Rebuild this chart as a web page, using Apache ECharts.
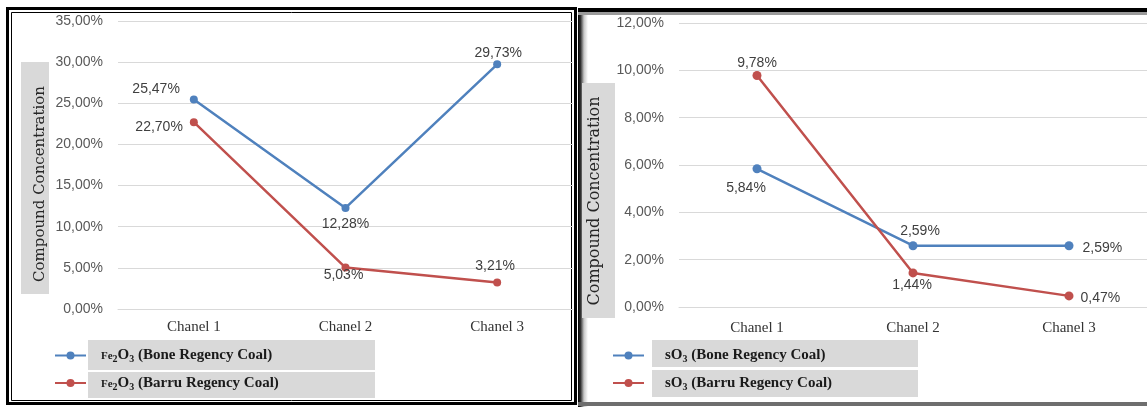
<!DOCTYPE html>
<html>
<head>
<meta charset="utf-8">
<title>Compound Concentration by Channel</title>
<script src="https://cdn.jsdelivr.net/npm/echarts@6/dist/echarts.min.js"></script>
<style>
  html, body { margin: 0; padding: 0; background: #ffffff; }
  #chart { width: 1147px; height: 408px; }
</style>
</head>
<body>
<div id="chart"></div>
<script>
// Channels sampled and measured concentrations (%)
const channels = ['Chanel 1', 'Chanel 2', 'Chanel 3'];
const fe2o3Bone = [25.47, 12.28, 29.73];
const fe2o3Barru = [22.70, 5.03, 3.21];
const so3Bone = [5.84, 2.59, 2.59];
const so3Barru = [9.78, 1.44, 0.47];

// Value axis ranges
const feAxis = { min: 0, max: 35, interval: 5 };
const soAxis = { min: 0, max: 12, interval: 2 };

const seriesNames = {
  feBone: 'Fe2O3 (Bone Regency Coal)',
  feBarru: 'Fe2O3 (Barru Regency Coal)',
  soBone: 'sO3 (Bone Regency Coal)',
  soBarru: 'sO3 (Barru Regency Coal)'
};

const BLUE = '#4f81bd';
const RED = '#c0504d';
const GRID_LINE = '#d9d9d9';
const BOX = '#d9d9d9';

const pct = v => v.toFixed(2).replace('.', ',') + '%';

// label placement for each point: [position, offset]
const placement = {
  feBone:  [['left', [-5, -10]], ['bottom', [0, 0]], ['top', [1, 5]]],
  feBarru: [['left', [-2, 5]], ['bottom', [-2, -8]], ['top', [-2, 0]]],
  soBone:  [['bottom', [-11, 3]], ['top', [7, 2]], ['right', [4, 2]]],
  soBarru: [['top', [0, 4]], ['bottom', [-1, -4]], ['right', [2, 2]]]
};

function points(values, key) {
  return values.map((v, i) => ({
    value: v,
    label: { position: placement[key][i][0], offset: placement[key][i][1] }
  }));
}

function lineSeries(name, values, key, color, gridIdx, size) {
  return {
    name: name,
    type: 'line',
    xAxisIndex: gridIdx,
    yAxisIndex: gridIdx,
    data: points(values, key),
    symbol: 'circle',
    symbolSize: size,
    lineStyle: { color: color, width: 2.5 },
    itemStyle: { color: color },
    label: {
      show: true,
      formatter: p => pct(p.value),
      color: '#404040',
      fontFamily: 'Liberation Sans',
      fontSize: 14
    },
    emphasis: { disabled: true },
    animation: false
  };
}

function legendLabel(name) {
  const m = name.match(/^(Fe2O3|sO3)(.*)$/);
  if (m[1] === 'Fe2O3') {
    return '{fe|Fe}{sub|2}{big|O}{sub|3}{big|' + m[2] + '}';
  }
  return '{big|sO}{sub|3}{big|' + m[2] + '}';
}

const legendRich = {
  fe: { fontFamily: 'Liberation Serif', fontWeight: 'bold', fontSize: 11, color: '#1a1a1a', lineHeight: 18, padding: [2, 0, 0, 0] },
  big: { fontFamily: 'Liberation Serif', fontWeight: 'bold', fontSize: 15, color: '#1a1a1a', lineHeight: 18 },
  sub: { fontFamily: 'Liberation Serif', fontWeight: 'bold', fontSize: 10, color: '#1a1a1a', verticalAlign: 'bottom', lineHeight: 13 }
};

function makeLegend(names, left, gap) {
  return {
    orient: 'vertical',
    left: left,
    top: 343,
    itemWidth: 31,
    itemHeight: 10,
    itemGap: 11,
    z: 10,
    selectedMode: false,
    data: names,
    formatter: legendLabel,
    textStyle: { rich: legendRich, padding: [0, 0, 0, gap] }
  };
}

function valueAxis(gridIdx, range) {
  return {
    type: 'value',
    gridIndex: gridIdx,
    min: range.min,
    max: range.max,
    interval: range.interval,
    axisLine: { show: false },
    axisTick: { show: false },
    splitLine: { lineStyle: { color: GRID_LINE, width: 1 } },
    axisLabel: {
      formatter: v => pct(v),
      color: '#595959',
      fontFamily: 'Liberation Sans',
      fontSize: 14,
      margin: 15
    }
  };
}

function categoryAxis(gridIdx, margin) {
  return {
    type: 'category',
    gridIndex: gridIdx,
    data: channels,
    boundaryGap: true,
    axisLine: { show: true, lineStyle: { color: GRID_LINE } },
    axisTick: { show: false },
    axisLabel: {
      color: '#333333',
      fontFamily: 'Liberation Serif',
      fontSize: 15,
      margin: margin
    }
  };
}

const chart = echarts.init(document.getElementById('chart'), null, { renderer: 'canvas' });

chart.setOption({
  backgroundColor: '#ffffff',
  animation: false,
  grid: [
    { left: 118, right: 574, top: 21, bottom: 99 },
    { left: 679, right: 0, top: 23, bottom: 101 }
  ],
  xAxis: [categoryAxis(0, 11), categoryAxis(1, 14)],
  yAxis: [valueAxis(0, feAxis), valueAxis(1, soAxis)],
  legend: [
    makeLegend([seriesNames.feBone, seriesNames.feBarru], 49, 10),
    makeLegend([seriesNames.soBone, seriesNames.soBarru], 607, 16)
  ],
  series: [
    lineSeries(seriesNames.feBone, fe2o3Bone, 'feBone', BLUE, 0, 8),
    lineSeries(seriesNames.feBarru, fe2o3Barru, 'feBarru', RED, 0, 8),
    lineSeries(seriesNames.soBone, so3Bone, 'soBone', BLUE, 1, 9),
    lineSeries(seriesNames.soBarru, so3Barru, 'soBarru', RED, 1, 9)
  ],
  graphic: [
    // left panel frame (double line)
    { type: 'rect', z: 0, silent: true, shape: { x: 7.5, y: 8.5, width: 568, height: 395 },
      style: { fill: null, stroke: '#000', lineWidth: 3 } },
    { type: 'rect', z: 0, silent: true, shape: { x: 11.5, y: 12.5, width: 560, height: 388 },
      style: { fill: null, stroke: '#000', lineWidth: 1 } },
    // right panel frame edges
    { type: 'rect', z: 0, silent: true, shape: { x: 578, y: 8, width: 10, height: 399 },
      style: { fill: new echarts.graphic.LinearGradient(0, 0, 1, 0, [
        { offset: 0, color: '#000000' }, { offset: 0.25, color: '#303030' },
        { offset: 0.6, color: '#c8c8c8' }, { offset: 1, color: '#ffffff' }]) } },
    { type: 'rect', z: 0, silent: true, shape: { x: 578, y: 8, width: 569, height: 4 },
      style: { fill: '#000000' } },
    { type: 'rect', z: 0, silent: true, shape: { x: 578, y: 12, width: 569, height: 3 },
      style: { fill: '#9a9a9a' } },
    { type: 'rect', z: 0, silent: true, shape: { x: 578, y: 402, width: 569, height: 4 },
      style: { fill: '#6e6e6e' } },
    // axis title backgrounds and titles
    { type: 'rect', z: 0, silent: true, shape: { x: 21, y: 62, width: 28, height: 232 },
      style: { fill: BOX } },
    { type: 'text', z: 1, silent: true, x: 40, y: 184, rotation: Math.PI / 2,
      style: { text: 'Compound Concentration', fontFamily: 'DejaVu Serif', fontSize: 15,
        fill: '#262626', align: 'center', verticalAlign: 'middle' } },
    { type: 'rect', z: 0, silent: true, shape: { x: 582, y: 83, width: 33, height: 235 },
      style: { fill: BOX } },
    { type: 'text', z: 1, silent: true, x: 595, y: 201, rotation: Math.PI / 2,
      style: { text: 'Compound Concentration', fontFamily: 'DejaVu Serif', fontSize: 16,
        fill: '#262626', align: 'center', verticalAlign: 'middle' } },
    // legend backgrounds
    { type: 'rect', z: 0, silent: true, shape: { x: 88, y: 340, width: 287, height: 30 },
      style: { fill: BOX } },
    { type: 'rect', z: 0, silent: true, shape: { x: 88, y: 372, width: 287, height: 26 },
      style: { fill: BOX } },
    { type: 'rect', z: 0, silent: true, shape: { x: 652, y: 340, width: 266, height: 27 },
      style: { fill: BOX } },
    { type: 'rect', z: 0, silent: true, shape: { x: 652, y: 370, width: 266, height: 27 },
      style: { fill: BOX } }
  ]
});
</script>
</body>
</html>
